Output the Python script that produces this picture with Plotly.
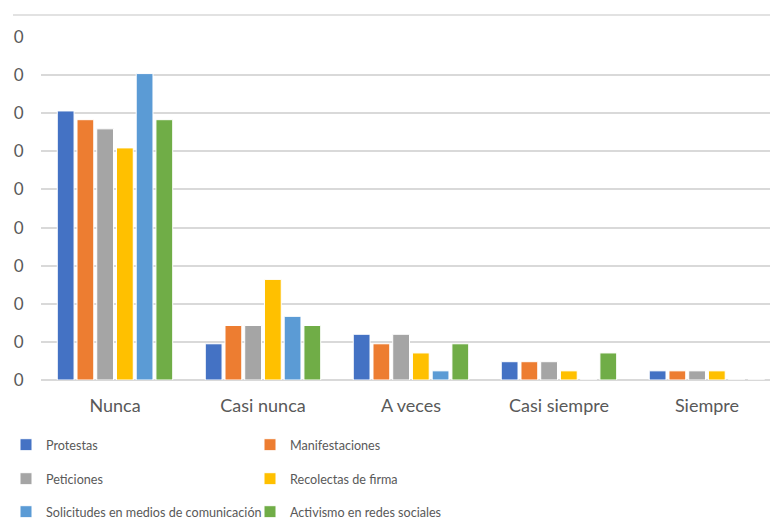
import plotly.graph_objects as go

categories = ["Nunca", "Casi nunca", "A veces", "Casi siempre", "Siempre"]
series_names = ["Protestas", "Manifestaciones", "Peticiones", "Recolectas de firma",
                "Solicitudes en medios de comunicación", "Activismo en redes sociales"]
protestas = [0.706, 0.095, 0.12, 0.048, 0.024]
manifestaciones = [0.683, 0.143, 0.095, 0.048, 0.024]
peticiones = [0.659, 0.143, 0.12, 0.048, 0.024]
recolectas = [0.609, 0.264, 0.071, 0.024, 0.024]
solicitudes = [0.804, 0.167, 0.024, 0, 0]
activismo = [0.683, 0.143, 0.095, 0.071, 0]
series_values = [protestas, manifestaciones, peticiones, recolectas, solicitudes, activismo]
colors = ["#4472C4", "#ED7D31", "#A5A5A5", "#FFC000", "#5B9BD5", "#70AD47"]
tick_vals = [0, 0.1, 0.2, 0.3, 0.4, 0.5, 0.6, 0.7, 0.8, 0.9]
tick_text = ["0"] * 10

FONT = "Lato, Liberation Sans, sans-serif"
GRAY = "#595959"

fig = go.Figure()
legend_ids = ["legend", "legend", "legend2", "legend2", "legend3", "legend3"]
for name, vals, col, lg in zip(series_names, series_values, colors, legend_ids):
    fig.add_trace(go.Bar(x=categories, y=vals, name=name, marker_color=col,
                         marker_line_color="white", marker_line_width=1,
                         legend=lg))

rows_y = [87 / 532, 53 / 532, 20 / 532]
leg_common = dict(orientation="h", xref="container", yref="container",
                  x=6 / 770, xanchor="left", yanchor="middle",
                  font=dict(family=FONT, size=12.6, color=GRAY),
                  entrywidth=199, entrywidthmode="pixels",
                  bgcolor="rgba(0,0,0,0)", itemclick=False, itemdoubleclick=False)

fig.update_layout(
    width=770, height=532,
    margin=dict(l=41, r=0, t=37, b=152),
    paper_bgcolor="white", plot_bgcolor="white",
    barmode="group", bargap=0.2, bargroupgap=0.15,
    font=dict(family=FONT, size=16, color=GRAY),
    xaxis=dict(range=[-0.5, 4.426], showgrid=False, showline=False,
               ticks="outside", ticklen=9, tickcolor="rgba(0,0,0,0)",
               tickfont=dict(family=FONT, size=18, color=GRAY)),
    yaxis=dict(range=[0, 0.9], tickvals=tick_vals, ticktext=tick_text,
               showgrid=True, gridcolor="#D9D9D9", gridwidth=1.5,
               zeroline=True, zerolinecolor="#D9D9D9", zerolinewidth=1.5,
               ticks="outside", ticklen=13, tickcolor="rgba(0,0,0,0)",
               tickfont=dict(family=FONT, size=17, color=GRAY)),
    legend=dict(y=rows_y[0], **leg_common),
    legend2=dict(y=rows_y[1], **leg_common),
    legend3=dict(y=rows_y[2], **leg_common),
    shapes=[dict(type="line", xref="paper", yref="paper", x0=-28/729, x1=1,
                 y0=1 + 22/343, y1=1 + 22/343,
                 line=dict(color="#D9D9D9", width=1.5))],
)

fig.write_html("out.html")
